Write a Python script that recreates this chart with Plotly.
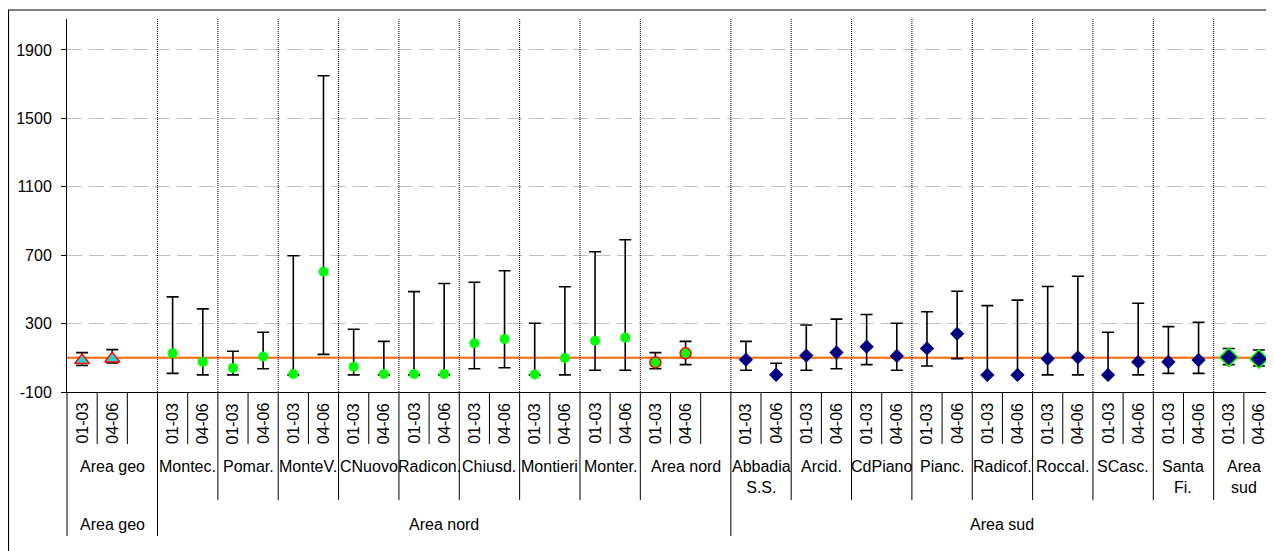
import plotly.graph_objects as go

# ---------------- data ----------------
groups = ["Area geo", "Montec.", "Pomar.", "MonteV.", "CNuovo", "Radicon.", "Chiusd.", "Montieri", "Monter.",
          "Area nord", "Abbadia<br>S.S.", "Arcid.", "CdPiano", "Pianc.", "Radicof.", "Roccal.", "SCasc.",
          "Santa<br>Fi.", "Area<br>sud"]
group_area = ["Area geo"] + ["Area nord"] * 9 + ["Area sud"] * 9
areas = ["Area geo", "Area nord", "Area sud"]
periods = ["01-03", "04-06"]
groups_with_blank = ["Area geo", "Area nord"]          # an empty trailing category

values_0103 = [85, 126, 41, 5, 48, 5, 185, 3, 200, 73, 89, 113, 165, 155, 0, 95, 0, 76, 103]
values_0406 = [95, 76, 108, 603, 5, 5, 210, 99, 218, 126, 1, 131, 111, 241, 0, 103, 76, 87, 93]
upper_0103 = [130, 456, 138, 697, 267, 487, 542, 302, 720, 130, 196, 292, 353, 369, 405, 517, 249, 282, 154]
upper_0406 = [148, 386, 249, 1749, 196, 534, 609, 515, 790, 196, 68, 326, 302, 489, 437, 577, 419, 308, 146]
lower_0103 = [55, 9, 0, 0, 0, 0, 36, 0, 27, 36, 27, 27, 60, 52, 0, 0, 0, 9, 60]
lower_0406 = [70, 0, 36, 120, 0, 0, 42, 0, 27, 60, 0, 36, 27, 95, 0, 0, 0, 9, 52]
reference_value = 100
y_ticks = [-100, 300, 700, 1100, 1500, 1900]

# ---------------- geometry ----------------
PAGE_OFFSET = 8                      # default body margin of the html page
W, H = 1274 - PAGE_OFFSET, 551 - PAGE_OFFSET
L_M, R_M, T_M = 67 - PAGE_OFFSET, 0, 19 - PAGE_OFFSET
PLOT_BOTTOM = 392 - PAGE_OFFSET
B_M = H - PLOT_BOTTOM
FONT = "Liberation Sans, Arial, sans-serif"

slots = []
for gi, g in enumerate(groups):
    for p in periods:
        slots.append((gi, p))
    if g in groups_with_blank:
        slots.append((gi, ""))
N = len(slots)


def py2paper(page_y):
    fy = page_y - PAGE_OFFSET
    return (PLOT_BOTTOM - fy) / (PLOT_BOTTOM - T_M)


def px2paper(page_x):
    fx = page_x - PAGE_OFFSET
    return (fx - L_M) / (W - L_M - R_M)


vals = {"01-03": values_0103, "04-06": values_0406}
ups = {"01-03": upper_0103, "04-06": upper_0406}
los = {"01-03": lower_0103, "04-06": lower_0406}

styles = {
    "geo": dict(symbol="triangle-up", size=13, color="#33CCCC", line=dict(color="#FF0000", width=1.5)),
    "nord": dict(symbol="circle", size=10, color="#00FF00", line=dict(width=0)),
    "nord_agg": dict(symbol="circle", size=11, color="#00FF00", line=dict(color="#FF0000", width=1.5)),
    "sud": dict(symbol="diamond", size=11, color="#000080", line=dict(width=0)),
    "sud_agg": dict(symbol="diamond", size=14, color="#000080", line=dict(color="#00FF00", width=1.5)),
}


def style_key(gi):
    g = groups[gi]
    if g == "Area geo":
        return "geo"
    if g == "Area nord":
        return "nord_agg"
    if g == "Area<br>sud":
        return "sud_agg"
    return "nord" if group_area[gi] == "Area nord" else "sud"


series = {k: dict(x=[], y=[], up=[], dn=[]) for k in styles}
for si, (gi, p) in enumerate(slots):
    if p == "":
        continue
    k = style_key(gi)
    v = vals[p][gi]
    series[k]["x"].append(si + 0.5)
    series[k]["y"].append(v)
    series[k]["up"].append(ups[p][gi] - v)
    series[k]["dn"].append(v - los[p][gi])

fig = go.Figure()
fig.add_trace(go.Scatter(x=[0, N], y=[reference_value, reference_value], mode="lines",
                         line=dict(color="#FF6600", width=2), hoverinfo="skip", cliponaxis=False))
for k, st in styles.items():
    s = series[k]
    fig.add_trace(go.Scatter(
        x=s["x"], y=s["y"], mode="markers",
        marker=dict(symbol=st["symbol"], size=st["size"], color=st["color"], line=st["line"]),
        error_y=dict(type="data", array=s["up"], arrayminus=s["dn"], symmetric=False,
                     color="#000000", thickness=1.6, width=6),
        hoverinfo="skip"))

shapes = []
annotations = []

group_start = {}
group_end = {}
for si, (gi, p) in enumerate(slots):
    group_start.setdefault(gi, si)
    group_end[gi] = si + 1
area_start = {}
area_end = {}
for gi in range(len(groups)):
    a = group_area[gi]
    area_start.setdefault(a, group_start[gi])
    area_end[a] = group_end[gi]

area_bounds = set(area_start.values()) | set(area_end.values())
group_bounds = set(group_start.values()) | set(group_end.values())

# dotted separators inside the plot
for b in sorted(group_bounds):
    if b != 0 and b != N:
        shapes.append(dict(type="line", xref="x", yref="paper", x0=b, x1=b, y0=0, y1=1,
                           line=dict(color="#000000", width=1, dash="1px,1px")))
# category tick lines below the axis
for b in range(N + 1):
    if b in area_bounds:
        y_end = 536
    elif b in group_bounds:
        y_end = 500
    else:
        y_end = 444
    shapes.append(dict(type="line", xref="paper", yref="paper", x0=b / N, x1=b / N,
                       y0=0, y1=py2paper(y_end),
                       line=dict(color="#000000", width=1)))

# row 1: rotated period labels
for si, (gi, p) in enumerate(slots):
    if p:
        annotations.append(dict(x=(si + 0.5) / N, y=py2paper(423.5), xref="paper", yref="paper",
                                text=p, textangle=-90, showarrow=False, xanchor="center", yanchor="middle",
                                font=dict(family=FONT, size=16, color="#000000")))
# row 2: group labels
for gi, g in enumerate(groups):
    cx = (group_start[gi] + group_end[gi]) / 2 / N
    annotations.append(dict(x=cx, y=py2paper(456), xref="paper", yref="paper", text=g, showarrow=False,
                            xanchor="center", yanchor="top", align="center",
                            font=dict(family=FONT, size=16, color="#000000")))
# row 3: area labels
for a in areas:
    cx = (area_start[a] + area_end[a]) / 2 / N
    annotations.append(dict(x=cx, y=py2paper(524), xref="paper", yref="paper", text=a, showarrow=False,
                            xanchor="center", yanchor="middle",
                            font=dict(family=FONT, size=16, color="#000000")))

# outer frame (chart area border)
shapes.append(dict(type="rect", xref="paper", yref="paper", x0=px2paper(8.5), x1=px2paper(1290),
                   y0=py2paper(570), y1=py2paper(10), line=dict(color="#000000", width=1.2),
                   fillcolor="rgba(0,0,0,0)"))

fig.update_layout(
    width=W, height=H,
    margin=dict(l=L_M, r=R_M, t=T_M, b=B_M, pad=0),
    paper_bgcolor="#FFFFFF", plot_bgcolor="#FFFFFF",
    showlegend=False, hovermode=False,
    font=dict(family=FONT, size=16, color="#000000"),
    xaxis=dict(range=[0, N], showgrid=False, zeroline=False, showticklabels=False, ticks="",
               showline=True, linecolor="#000000", linewidth=1, fixedrange=True),
    yaxis=dict(range=[-100, 2081], tickvals=y_ticks, ticktext=[str(t) for t in y_ticks],
               showgrid=True, gridcolor="#C0C0C0", gridwidth=1, griddash="15px,7px",
               zeroline=False, showline=True, linecolor="#000000", linewidth=1,
               ticks="outside", ticklen=5, tickcolor="#000000", ticklabelstandoff=6,
               tickfont=dict(family=FONT, size=16, color="#000000"), fixedrange=True),
    shapes=shapes, annotations=annotations,
)

fig.write_html("out.html")
